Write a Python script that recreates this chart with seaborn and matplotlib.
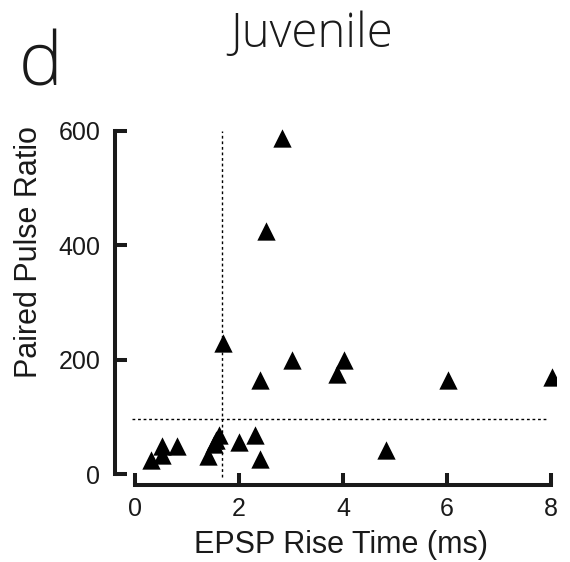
import matplotlib
matplotlib.use("Agg")
import matplotlib.pyplot as plt
import seaborn as sns
import pandas as pd

# ---- data ----
rise_time = [2.82, 2.52, 1.70, 3.01, 2.40, 4.01, 3.89, 6.01, 8.01, 4.82,
             0.30, 0.51, 0.51, 0.81, 1.41, 1.51, 1.55, 1.61, 2.00, 2.30, 2.40]
paired_pulse = [588, 425, 230, 199, 165, 199, 175, 164, 169, 42,
                24, 49, 33, 49, 32, 52, 60, 68, 56, 68, 26]
threshold_x = 1.68
threshold_y = 97
vline_span = [-5, 600]
hline_span = [-0.05, 7.95]
x_ticks = [0, 2, 4, 6, 8]
y_ticks = [0, 200, 400, 600]
title = "Juvenile"
panel_letter = "d"
x_label = "EPSP Rise Time (ms)"
y_label = "Paired Pulse Ratio"

df = pd.DataFrame({"rise": rise_time, "ppr": paired_pulse})

sns.set_style("ticks")
plt.rcParams["font.family"] = ["Liberation Sans", "DejaVu Sans"]

W, H = 570, 562
fig = plt.figure(figsize=(W / 100, H / 100), dpi=100)

# axes placement in pixels
left_px, right_px = 115.0, 556.2
bottom_px, top_px = 485.0, 119.5
ax = fig.add_axes([left_px / W, 1 - bottom_px / H,
                   (right_px - left_px) / W, (bottom_px - top_px) / H])

# reference dotted lines
ax.plot([threshold_x, threshold_x], vline_span, color="black", lw=1.0,
        linestyle=(0, (2, 2)), zorder=1)
ax.plot(hline_span, [threshold_y, threshold_y], color="black", lw=1.0,
        linestyle=(0, (2, 2)), zorder=1)

sns.scatterplot(data=df, x="rise", y="ppr", marker="^", s=174,
                color="black", linewidth=0, ax=ax, zorder=3)

ax.set_xlim(-0.385, 8.1)
ax.set_ylim(-19.2, 620)

for side in ["top", "right"]:
    ax.spines[side].set_visible(False)
for side in ["left", "bottom"]:
    ax.spines[side].set_linewidth(2.9)
    ax.spines[side].set_color("#1a1a1a")
ax.spines["left"].set_bounds(0, 600)
ax.spines["bottom"].set_bounds(0, 8)

ax.set_xticks(x_ticks)
ax.set_yticks(y_ticks)
ax.set_xticklabels([str(v) for v in x_ticks])
ax.set_yticklabels([str(v) for v in y_ticks])
ax.tick_params(axis="both", direction="in", length=8.6, width=2.9,
               color="#1a1a1a", labelsize=18, labelcolor="#1a1a1a")
ax.tick_params(axis="x", pad=8.5)
ax.tick_params(axis="y", pad=10.5)

ax.set_xlabel(x_label, fontsize=22, color="#1a1a1a")
ax.set_ylabel(y_label, fontsize=22, color="#1a1a1a")
ax.xaxis.label.set_va("baseline")
ax.yaxis.label.set_va("baseline")
axw = right_px - left_px
axh = bottom_px - top_px
ax.xaxis.set_label_coords((341.5 - left_px) / axw, (bottom_px - 553) / axh)
ax.yaxis.set_label_coords((37 - left_px) / axw, (bottom_px - 252.5) / axh)

geo = ["Open Sans", "Liberation Sans", "DejaVu Sans"]
fig.text(312 / W, 1 - 47 / H, title, fontsize=34, ha="center",
         va="baseline", color="#1a1a1a", family=geo, fontweight=300)
fig.text(41 / W, 1 - 85 / H, panel_letter, fontsize=53, ha="center",
         va="baseline", color="#1a1a1a", family=geo, fontweight=300)

ax.set_facecolor("white")
fig.patch.set_facecolor("white")
fig.savefig("out.png", dpi=100)
